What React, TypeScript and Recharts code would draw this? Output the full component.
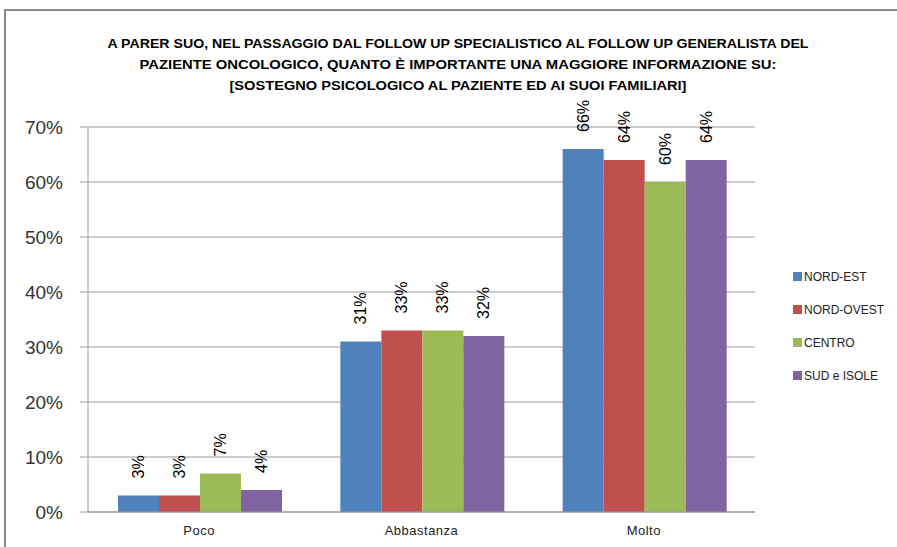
import React from "react";
import { BarChart, Bar, XAxis, YAxis, CartesianGrid, LabelList } from "recharts";

const categories = ["Poco", "Abbastanza", "Molto"];
const nordEst = [0.03, 0.31, 0.66];
const nordOvest = [0.03, 0.33, 0.64];
const centro = [0.07, 0.33, 0.6];
const sudIsole = [0.04, 0.32, 0.64];
const yTicks = [0, 0.1, 0.2, 0.3, 0.4, 0.5, 0.6, 0.7];
const seriesNames = ["NORD-EST", "NORD-OVEST", "CENTRO", "SUD e ISOLE"];
const seriesKeys = ["ne", "no", "ce", "si"];
const colors = ["#4F81BD", "#C0504D", "#9BBB59", "#8064A2"];
const titleLines = [
  "A PARER SUO, NEL PASSAGGIO DAL FOLLOW UP SPECIALISTICO AL FOLLOW UP GENERALISTA DEL",
  "PAZIENTE ONCOLOGICO, QUANTO È IMPORTANTE UNA MAGGIORE INFORMAZIONE SU:",
  "[SOSTEGNO PSICOLOGICO AL PAZIENTE ED AI SUOI FAMILIARI]",
];

const data = categories.map((c, i) => ({
  name: c,
  ne: nordEst[i],
  no: nordOvest[i],
  ce: centro[i],
  si: sudIsole[i],
}));

const pct = (v: number) => `${Math.round(v * 100)}%`;
const FONT = "Liberation Sans, Arial, sans-serif";

const RotLabel = (props: any) => {
  const { x, y, width, value } = props;
  const cx = x + width / 2;
  const ty = y - 17;
  return (
    <text
      x={cx}
      y={ty}
      transform={`rotate(-90 ${cx} ${ty})`}
      textAnchor="start"
      dominantBaseline="central"
      fontSize={16}
      fontFamily={FONT}
      fill="#000"
    >
      {pct(value)}
    </text>
  );
};

const titleWidths = [701, 637, 457];
const titleBaselines = [48, 69, 90];

export default function App() {
  return (
    <div style={{ position: "fixed", left: 0, top: 0, width: 897, height: 547, background: "#fff", overflow: "hidden" }}>
      <div style={{ position: "absolute", left: 4, top: 9, width: 893, height: 2, background: "#8a8a8a" }} />
      <div style={{ position: "absolute", left: 4, top: 9, width: 2, height: 538, background: "#8a8a8a" }} />
      <svg width={897} height={110} style={{ position: "absolute", left: 0, top: 0 }}>
        {titleLines.map((t, i) => (
          <text
            key={i}
            x={458}
            y={titleBaselines[i]}
            textAnchor="middle"
            fontSize={13.5}
            fontWeight="bold"
            fontFamily={FONT}
            fill="#000"
            textLength={titleWidths[i]}
            lengthAdjust="spacingAndGlyphs"
          >
            {t}
          </text>
        ))}
      </svg>
      <div style={{ position: "absolute", left: 0, top: 0 }}>
        <BarChart
          width={897}
          height={547}
          data={data}
          margin={{ top: 127, right: 142, bottom: 10, left: 8 }}
          barCategoryGap="13.5%"
          barGap={0}
        >
          <CartesianGrid vertical={false} stroke="#999" />
          <XAxis
            dataKey="name"
            axisLine={{ stroke: "#999" }}
            tickLine={false}
            tickMargin={8}
            height={25}
            tick={{ fontSize: 13, fill: "#222", fontFamily: FONT, letterSpacing: 0.5 }}
          />
          <YAxis
            width={80}
            domain={[0, 0.7]}
            ticks={yTicks}
            tickFormatter={pct}
            axisLine={{ stroke: "#999" }}
            tickLine={{ stroke: "#999" }}
            tickSize={8}
            tickMargin={17}
            tick={{ fontSize: 19, fill: "#333", fontFamily: FONT }}
            interval={0}
          />
          {seriesKeys.map((k, i) => (
            <Bar key={k} dataKey={k} name={seriesNames[i]} fill={colors[i]} isAnimationActive={false}>
              <LabelList dataKey={k} content={<RotLabel />} />
            </Bar>
          ))}
        </BarChart>
      </div>
      <div style={{ position: "absolute", left: 793, top: 260, fontFamily: FONT, fontSize: 12, color: "#222" }}>
        {seriesNames.map((n, i) => (
          <div key={n} style={{ display: "flex", alignItems: "center", height: 33 }}>
            <span style={{ display: "inline-block", width: 9, height: 9, background: colors[i], marginRight: 2 }} />
            <span>{n}</span>
          </div>
        ))}
      </div>
    </div>
  );
}
